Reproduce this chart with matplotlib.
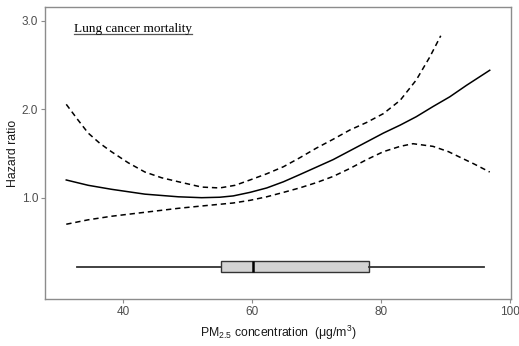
import matplotlib
matplotlib.use("Agg")
import matplotlib.pyplot as plt

plt.rcParams['font.family'] = ['Liberation Sans', 'DejaVu Sans']
plt.rcParams['mathtext.fontset'] = 'custom'
plt.rcParams['mathtext.rm'] = 'Liberation Sans'
plt.rcParams['mathtext.it'] = 'Liberation Sans:italic'

# ---- data ----
hr_x = [31.2, 34.6, 38.2, 43.4, 48.6, 52.2, 55.0, 57.1, 59.7, 62.3, 64.9, 67.4,
        70.0, 72.6, 75.2, 77.8, 80.4, 83.0, 85.5, 88.1, 90.7, 93.3, 96.9]
hr_y = [1.20, 1.14, 1.095, 1.04, 1.01, 1.00, 1.005, 1.02, 1.06, 1.11, 1.18, 1.26,
        1.345, 1.43, 1.53, 1.63, 1.73, 1.82, 1.915, 2.03, 2.14, 2.27, 2.44]

up_x = [31.2, 33.0, 34.6, 36.4, 38.2, 40.8, 43.4, 46.0, 48.6, 52.2, 55.0, 57.4,
        59.7, 62.3, 64.9, 67.4, 70.0, 72.6, 75.2, 77.8, 80.4, 83.0, 85.5, 87.6, 89.3]
up_y = [2.055, 1.88, 1.73, 1.615, 1.52, 1.395, 1.29, 1.225, 1.18, 1.12, 1.11, 1.14,
        1.20, 1.27, 1.35, 1.45, 1.56, 1.66, 1.765, 1.85, 1.95, 2.10, 2.33, 2.59, 2.83]

lo_x = [31.2, 34.6, 38.2, 43.4, 48.6, 52.2, 57.1, 59.7, 62.3, 64.9, 67.4, 70.0,
        72.6, 75.2, 77.8, 80.4, 83.0, 85.0, 88.1, 90.5, 92.2, 94.5, 96.9]
lo_y = [0.70, 0.75, 0.79, 0.835, 0.88, 0.906, 0.94, 0.97, 1.01, 1.06, 1.11, 1.17,
        1.24, 1.33, 1.43, 1.52, 1.58, 1.61, 1.58, 1.52, 1.46, 1.38, 1.29]

# boxplot of exposure distribution: whisker low, Q1, median, Q3, whisker high
box_stats = [32.8, 55.2, 60.2, 78.2, 96.0]
box_y = 0.22

x_ticks = [40, 60, 80, 100]
y_ticks = [1.0, 2.0, 3.0]
y_ticklabels = ["1.0", "2.0", "3.0"]

title_text = "Lung cancer mortality"
xlabel_text = r"$\mathrm{PM}_{2.5}$ concentration  (μg/m$^{3}$)"
ylabel_text = "Hazard ratio"

# ---- figure ----
fig = plt.figure(figsize=(5.19, 3.46), dpi=100)
ax = fig.add_axes([45/519, 1-299/346, (511-45)/519, (299-7)/346])

dash = (0, (3.5, 2.5))
ax.plot(hr_x, hr_y, color='black', lw=1.1)
ax.plot(up_x, up_y, color='black', lw=1.1, linestyle=dash)
ax.plot(lo_x, lo_y, color='black', lw=1.1, linestyle=dash)

ax.bxp([{'whislo': box_stats[0], 'q1': box_stats[1], 'med': box_stats[2],
         'q3': box_stats[3], 'whishi': box_stats[4], 'fliers': []}],
       positions=[box_y], vert=False, widths=0.125, showcaps=False,
       patch_artist=True, manage_ticks=False,
       boxprops=dict(facecolor='#d3d3d3', edgecolor='#333333', lw=1.0),
       whiskerprops=dict(color='#333333', lw=1.3),
       medianprops=dict(color='black', lw=1.8))

ax.set_xlim(27.9, 100.2)
ax.set_ylim(-0.145, 3.155)
ax.set_xticks(x_ticks)
ax.set_yticks(y_ticks)
ax.set_yticklabels(y_ticklabels)

for s in ax.spines.values():
    s.set_color('#8c8c8c')
    s.set_linewidth(1.0)
ax.tick_params(axis='both', colors='#8c8c8c', labelcolor='#4d4d4d',
               length=3, width=0.8, labelsize=8.5, pad=2)

ax.set_xlabel(xlabel_text, fontsize=8.8, labelpad=4, color='#1a1a1a')
ax.set_ylabel(ylabel_text, fontsize=8.8, labelpad=2, color='#1a1a1a')

t = ax.text(0.062, 0.925, title_text, transform=ax.transAxes,
            fontsize=9.5, family='Liberation Serif', ha='left', va='center')
fig.canvas.draw()
bb = t.get_window_extent().transformed(ax.transAxes.inverted())
ax.plot([bb.x0, bb.x1], [bb.y0 + 0.002, bb.y0 + 0.002], transform=ax.transAxes,
        color='#555555', lw=0.9, clip_on=False)

fig.savefig("out.png", dpi=100)
